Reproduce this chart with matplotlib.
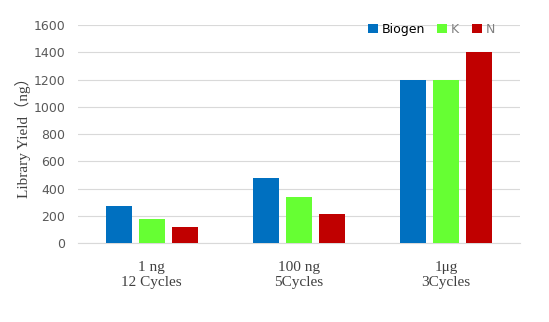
import matplotlib
matplotlib.use("Agg")
import matplotlib.pyplot as plt
import numpy as np

categories = ["1 ng\n12 Cycles", "100 ng\n5Cycles", "1μg\n3Cycles"]
series_names = ["Biogen", "K", "N"]
biogen = [275, 480, 1200]
k_vals = [175, 335, 1200]
n_vals = [120, 210, 1400]
colors = ["#0070C0", "#66FF33", "#C00000"]
yticks = [0, 200, 400, 600, 800, 1000, 1200, 1400, 1600]

fig = plt.figure(figsize=(5.49, 3.22), dpi=100)
ax = fig.add_axes([0.142, 0.245, 0.805, 0.677])

x = np.arange(len(categories))
w = 0.177
step = 0.224
for i, (vals, name, c) in enumerate(zip([biogen, k_vals, n_vals], series_names, colors)):
    ax.bar(x + (i - 1) * step, vals, width=w, color=c, label=name, zorder=3)

ax.set_xlim(-0.5, 2.5)
ax.set_ylim(0, 1600)
ax.set_yticks(yticks)
ax.set_yticklabels([str(v) for v in yticks], color="#595959", fontsize=9, family="DejaVu Sans")
ax.set_xticks(x)
ax.set_xticklabels(categories, family="Liberation Serif", fontsize=11, color="#404040", linespacing=1.2)
ax.tick_params(axis="both", length=0)
ax.tick_params(axis="x", pad=13)
ax.tick_params(axis="y", pad=9)
ax.grid(axis="y", color="#D9D9D9", linewidth=0.8, zorder=0)
for s in ["top", "right", "left"]:
    ax.spines[s].set_visible(False)
ax.spines["bottom"].set_color("#D9D9D9")
ax.set_ylabel("Library Yield（ng）", family=["Liberation Serif", "Noto Sans CJK SC"], fontsize=11, color="#404040", labelpad=2)

leg = ax.legend(loc="upper right", bbox_to_anchor=(0.96, 1.045), ncol=3, frameon=False,
                fontsize=9, handlelength=0.8, handleheight=0.8, handletextpad=0.3,
                columnspacing=1.0, borderaxespad=0.2)
texts = leg.get_texts()
texts[0].set_color("#000000")
texts[1].set_color("#808080")
texts[2].set_color("#808080")

fig.savefig("out.png", dpi=100, facecolor="white")
